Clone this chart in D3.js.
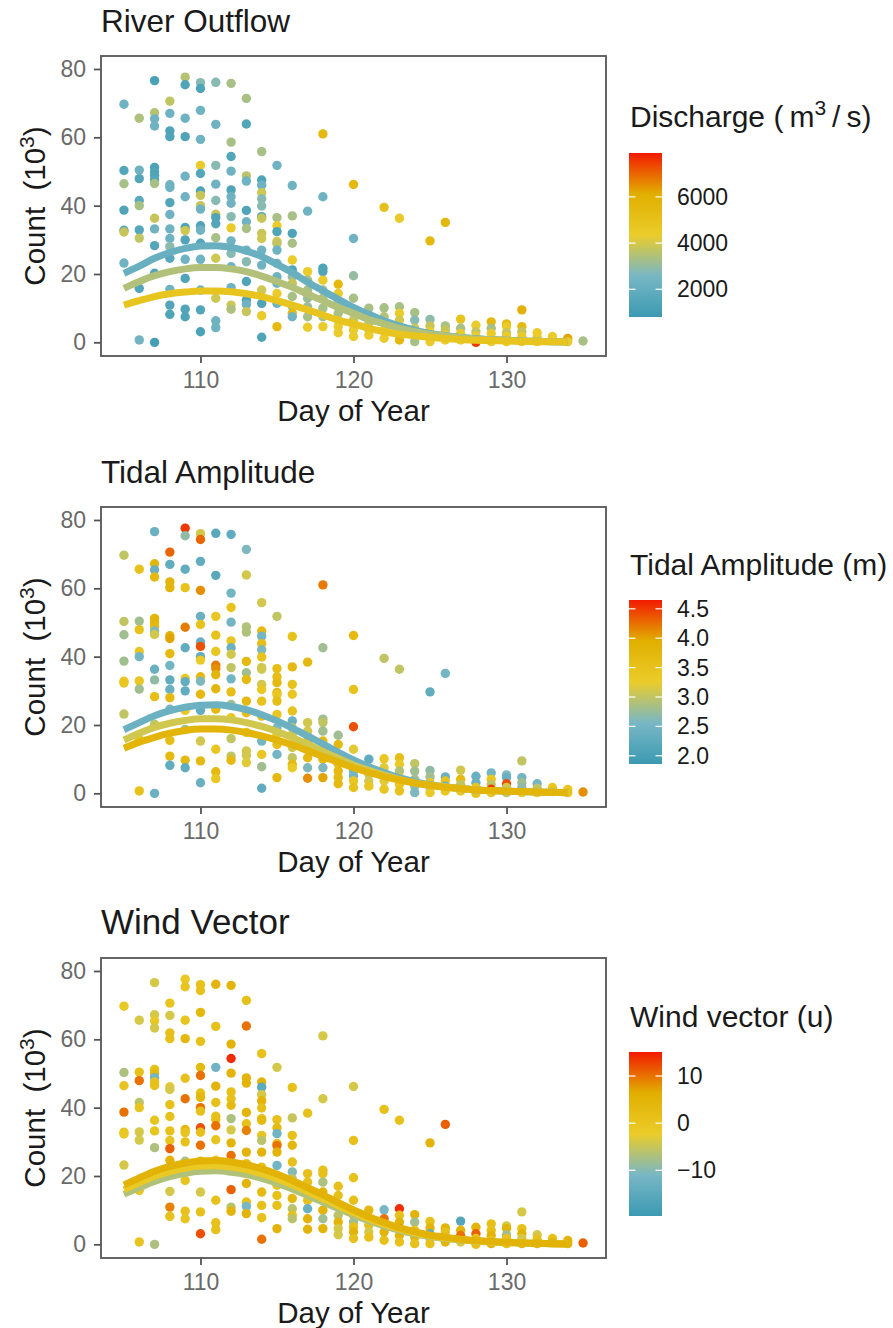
<!DOCTYPE html>
<html>
<head>
<meta charset="utf-8">
<script src="https://cdn.jsdelivr.net/npm/d3@7"></script>
<style>
  body { margin: 0; background: #fff; }
  text { font-family: "Liberation Sans", Arial, Helvetica, sans-serif; }
</style>
</head>
<body>
<div id="chart"></div>
<script>

// ---- data ----
var days = [105, 106, 107, 108, 109, 110, 111, 112, 113, 114, 115, 116, 117, 118, 119, 120,
            121, 122, 123, 124, 125, 126, 127, 128, 129, 130, 131, 132, 133, 134, 135];

// counts (x 1000), one list per day
var counts = [
  [69.7, 50.3, 46.4, 38.7, 32.8, 32.3, 23.2],
  [65.6, 50.4, 47.9, 41.5, 40.0, 32.9, 30.5, 15.8, 0.7],
  [76.6, 67.2, 65.4, 63.3, 51.2, 49.9, 48.8, 47.5, 46.5, 36.3, 33.2, 28.3, 20.2, 0],
  [70.6, 67.0, 61.9, 60.2, 46.1, 45.3, 40.9, 37.4, 33.2, 30.4, 28.0, 24.6, 15.5, 10.9, 8.2],
  [77.6, 75.4, 65.6, 60.2, 48.6, 42.6, 33.6, 32.7, 30.0, 24.3, 18.7, 9.7, 7.5],
  [76.0, 74.3, 67.9, 59.4, 51.8, 49.4, 44.3, 43.0, 40.0, 39.0, 34.1, 32.8, 29.0, 24.3, 15.3, 9.5, 3.1],
  [76.1, 63.8, 51.8, 46.3, 41.5, 37.5, 36.5, 34.7, 30.6, 24.6, 12.9, 6.3, 4.3],
  [75.8, 58.6, 54.4, 50.1, 44.6, 42.6, 40.7, 36.8, 33.5, 29.7, 26.0, 22.1, 16.0, 10.9, 9.7],
  [71.4, 63.9, 48.7, 47.2, 38.6, 35.3, 33.3, 27.0, 23.6, 17.8, 12.4, 11.1, 9.0],
  [55.8, 47.5, 46.0, 43.8, 42.0, 39.9, 36.8, 36.3, 31.9, 30.4, 27.0, 22.6, 15.3, 11.4, 7.8, 1.5],
  [51.8, 36.5, 34.1, 32.4, 29.5, 28.9, 27.0, 23.1, 19.2, 17.3, 14.3, 11.4, 4.6],
  [45.9, 37.0, 31.9, 29.0, 24.1, 21.2, 19.2, 17.3, 13.4, 10.4, 8.5, 7.5],
  [38.4, 20.7, 18.2, 15.3, 12.9, 10.4, 7.5, 4.4],
  [61.0, 42.6, 21.7, 20.7, 18.2, 15.3, 12.9, 10.0, 7.5, 4.6],
  [17.0, 14.3, 11.4, 8.5, 6.5, 4.6, 2.8],
  [46.2, 30.4, 19.5, 12.9, 8.5, 6.5, 5.1, 3.6, 1.7],
  [10.0, 7.5, 5.6, 3.6, 2.1],
  [39.5, 10.1, 7.5, 5.6, 3.6, 1.2],
  [36.3, 10.4, 8.5, 6.5, 4.6, 2.6, 0.7],
  [8.7, 6.5, 4.1, 2.1, 0.2],
  [29.7, 6.7, 4.8, 3.1, 1.7, 0.2],
  [35.1, 4.8, 3.6, 2.1, 0.7],
  [6.8, 4.1, 2.6, 0.7],
  [5.0, 3.1, 1.7, 0],
  [6.0, 4.1, 2.6, 1.2, 0.2],
  [5.4, 4.6, 2.8, 1.7, 0.2],
  [9.5, 4.6, 3.1, 1.7, 0.2],
  [2.8, 1.5, 0.2],
  [1.7, 0.5],
  [1.1, 0.2],
  [0.4]
];

// river discharge (m3/s) for each point
var discharge = [
  [2300, 1500, 3300, 1400, 1500, 3800, 2300],
  [3400, 2300, 1500, 1700, 3300, 1600, 3700, 1500, 2400],
  [1200, 3500, 2300, 2300, 1300, 1400, 1400, 1500, 3300, 3800, 2300, 1500, 1500, 1100],
  [3700, 2300, 1400, 1400, 2300, 2300, 1500, 2300, 2300, 2300, 2900, 1600, 2300, 1500, 1400],
  [3500, 1400, 2300, 1400, 2300, 2300, 1400, 3900, 1400, 2300, 1400, 1500, 1400],
  [2800, 1400, 2300, 2300, 4400, 1500, 1400, 3800, 3800, 2300, 1400, 2300, 1500, 2300, 2300, 1500, 1300],
  [2800, 2300, 2800, 2300, 2800, 3800, 1400, 1500, 3300, 3900, 3900, 2300, 2300],
  [3300, 3300, 1500, 2300, 1400, 2300, 2300, 2800, 4400, 2300, 2800, 2300, 2300, 3900, 3400],
  [3300, 1500, 3600, 2300, 1400, 2300, 3300, 2300, 2800, 1400, 1400, 2300, 3800],
  [3300, 1400, 2300, 3900, 2800, 2800, 1400, 3800, 3800, 3900, 2300, 2300, 3900, 1400, 4400, 1400],
  [2300, 3300, 4400, 1400, 3900, 3700, 2300, 2300, 2300, 2300, 4400, 2300, 5500],
  [2300, 3300, 1400, 3300, 4400, 1400, 3000, 3800, 3300, 3300, 5500, 2300],
  [2300, 4400, 3300, 3300, 3100, 3100, 3300, 4400],
  [5500, 2300, 1400, 1400, 4400, 3100, 3300, 3300, 3300, 4400],
  [5500, 4400, 3300, 3300, 3800, 4400, 4400],
  [5500, 2300, 3000, 3300, 3800, 3800, 4400, 4400, 4400],
  [3300, 3500, 3800, 4000, 4400],
  [5000, 3300, 3500, 3800, 4400, 4400],
  [4500, 3300, 4400, 4000, 4400, 4400, 5500],
  [3300, 2800, 3800, 4400, 3300],
  [5500, 2900, 3800, 4400, 4400, 4400],
  [5700, 3300, 3800, 4400, 4400],
  [4900, 3300, 4400, 4400],
  [4400, 3800, 4400, 7500],
  [5500, 3300, 4400, 4400, 4400],
  [5500, 4400, 3800, 4400, 4400],
  [6000, 5500, 3800, 4400, 4400],
  [4400, 4400, 4400],
  [4400, 4400],
  [6300, 4400],
  [3300]
];

// tidal amplitude (m) for each point
var tideAmp = [
  [3.0, 3.0, 2.8, 2.8, 3.4, 3.4, 3.0],
  [3.5, 2.8, 3.5, 3.4, 2.5, 3.4, 2.8, 3.4, 3.5],
  [2.4, 3.8, 2.4, 3.7, 3.8, 3.8, 3.7, 2.6, 3.1, 2.4, 2.7, 3.6, 3.0, 2.4],
  [4.3, 2.3, 3.8, 3.8, 3.9, 4.0, 3.7, 2.5, 2.3, 2.4, 3.7, 2.5, 3.6, 3.7, 2.3],
  [4.5, 2.7, 2.3, 3.5, 4.2, 2.3, 3.4, 2.3, 2.3, 3.4, 2.8, 3.7, 2.3],
  [3.1, 4.3, 2.3, 4.1, 2.4, 3.5, 2.4, 4.4, 2.3, 3.3, 3.7, 2.6, 3.7, 2.3, 3.1, 3.7, 2.4],
  [2.2, 2.2, 3.4, 3.5, 3.4, 4.2, 4.1, 3.8, 3.8, 3.7, 3.4, 3.7, 3.4],
  [2.3, 2.5, 3.5, 2.5, 3.4, 2.4, 3.1, 3.0, 2.5, 3.6, 2.8, 3.4, 3.0, 3.0, 3.7],
  [2.6, 3.1, 2.9, 2.9, 3.7, 2.8, 3.7, 3.7, 3.6, 3.4, 3.1, 3.1, 3.2],
  [3.1, 3.7, 2.5, 3.6, 2.6, 3.5, 3.1, 3.1, 3.1, 3.4, 3.5, 3.6, 2.5, 3.4, 2.8, 2.3],
  [3.0, 3.6, 3.6, 3.7, 3.7, 3.4, 3.6, 3.4, 2.6, 3.3, 3.6, 2.5, 3.7],
  [3.5, 3.7, 3.5, 3.4, 3.5, 2.4, 3.0, 3.1, 3.1, 3.0, 3.7, 3.3],
  [3.7, 3.1, 3.1, 3.7, 2.9, 3.7, 2.6, 4.1],
  [4.2, 2.8, 2.8, 3.0, 2.8, 3.7, 3.6, 3.7, 2.6, 4.0],
  [2.8, 3.7, 4.0, 3.5, 3.7, 3.7, 3.7],
  [3.7, 3.5, 4.4, 3.2, 2.5, 2.5, 2.5, 3.4, 3.5],
  [2.3, 2.5, 3.0, 3.1, 3.4],
  [3.0, 3.4, 3.2, 2.8, 3.2, 3.4],
  [3.0, 3.6, 3.3, 2.9, 3.3, 3.4, 3.5],
  [3.0, 2.8, 2.8, 2.7, 2.6],
  [2.3, 2.7, 2.8, 3.4, 2.7, 3.3],
  [2.5, 2.4, 3.5, 2.4, 3.4],
  [3.1, 3.7, 3.0, 3.4],
  [2.4, 2.4, 3.4, 3.5],
  [2.5, 3.4, 3.0, 4.5, 3.4],
  [2.6, 2.4, 4.4, 3.1, 3.0],
  [3.0, 2.5, 2.8, 2.7, 3.2],
  [2.5, 3.0, 3.3],
  [3.4, 3.5],
  [3.4, 3.5],
  [4.1]
];

// wind vector (u) for each point
var windU = [
  [-1, -7, 0, 10, 1, -1, -4],
  [-4, 1, 10, -6, 0, -4, -4, 0, 0],
  [-4, -4, -1, -4, 1, 4, -12, 1, 1, 0, 0, -7, 0, -7],
  [0, -4, 1, 1, -3, -4, 1, 1, 1, 0, 11, 5, -4, 9, 1],
  [-1, 0, 0, 4, 1, 10, 4, 0, 1, -7, 0, 1, 0],
  [1, 1, 4, 1, 3, 10, 1, 4, 10, 1, 12, 1, 10, 3, -4, 1, 12],
  [5, 1, -12, 5, 1, 1, 1, 10, 0, -3, 1, 1, 1],
  [5, 5, 14, 5, 1, 1, 3, -7, -4, 5, 10, 1, 11, -6, 5],
  [1, 10, 5, 5, 5, 1, 9, 5, 1, 5, 1, -11, 5],
  [1, 5, -15, -4, 5, 1, 1, 3, 0, -6, 5, 1, 3, 1, 1, 10],
  [-4, 1, 3, -12, 1, 10, 5, -12, 1, 1, 1, 1, 5],
  [1, -5, 1, 4, 1, -10, -6, 1, 4, -6, 1, -6],
  [1, 1, 1, 5, 1, -13, 5, 5],
  [-4, -4, 1, 1, -7, 5, 10, 5, -8, 5],
  [1, 1, 5, -6, 5, -4, -4],
  [-4, 1, 1, 1, 5, -8, 1, 5, 1],
  [4, -4, 1, -4, 1],
  [1, -11, 10, 5, 5, 1],
  [1, 14, 1, 5, 12, 5, 1],
  [5, -8, 1, 5, 1],
  [5, 1, 5, -14, 1, 1],
  [11, 5, 1, 1, 5],
  [-16, 5, 10, -4],
  [5, 11, 1, 1],
  [1, 1, 5, 1, 5],
  [-4, 5, -8, 1, 1],
  [-4, 1, 5, -4, 5],
  [-4, 1, 5],
  [1, 5],
  [5, 5],
  [11]
];

// fitted curves (x 1000) at three covariate levels
var fitDays = [105, 106, 107, 108, 109, 110, 111, 112, 113, 114, 115, 116, 117, 118, 119, 120,
               121, 122, 123, 124, 125, 126, 127, 128, 129, 130, 131, 132, 133, 134];

var dischargeFitLevels = [2100, 3450, 4850];
var dischargeFits = [
  [20.2, 22.3, 24.6, 26.3, 27.5, 28.2, 28.3, 27.8, 26.7, 25.1, 22.8, 20.4, 17.6, 15.1, 12.6, 10.2,
   8.2, 6.3, 4.8, 3.6, 2.6, 2.0, 1.4, 1.1, 0.8, 0.6, 0.4, 0.3, 0.2, 0.1],
  [15.8, 17.8, 19.5, 20.7, 21.5, 21.9, 21.9, 21.5, 20.7, 19.4, 17.8, 16.1, 14.1, 12.2, 10.2, 8.5,
   6.7, 5.4, 4.1, 3.1, 2.4, 1.9, 1.4, 1.0, 0.8, 0.6, 0.4, 0.3, 0.2, 0.1],
  [10.9, 12.2, 13.4, 14.2, 14.7, 15.0, 15.0, 14.8, 14.2, 13.4, 12.2, 10.9, 9.5, 8.0, 6.5, 5.4,
   4.1, 3.1, 2.4, 1.9, 1.5, 1.1, 0.8, 0.6, 0.5, 0.4, 0.3, 0.2, 0.15, 0.1]
];

var tideFitLevels = [2.42, 3.09, 3.81];
var tideFits = [
  [18.6, 20.7, 22.7, 24.2, 25.2, 25.8, 25.9, 25.4, 24.5, 23.0, 21.2, 19.1, 16.8, 14.5, 12.0, 9.8,
   7.8, 6.1, 4.6, 3.4, 2.5, 1.9, 1.4, 1.0, 0.8, 0.6, 0.5, 0.4, 0.3, 0.2],
  [15.6, 17.6, 19.3, 20.5, 21.3, 21.8, 21.8, 21.5, 20.7, 19.6, 18.1, 16.3, 14.4, 12.2, 10.3, 8.3,
   6.7, 5.3, 4.1, 3.1, 2.4, 1.9, 1.4, 1.0, 0.8, 0.6, 0.5, 0.4, 0.3, 0.2],
  [13.2, 15.0, 16.4, 17.6, 18.4, 18.8, 18.8, 18.5, 17.8, 16.8, 15.6, 14.2, 12.5, 10.8, 9.1, 7.5,
   6.1, 4.9, 3.9, 3.0, 2.3, 1.8, 1.4, 1.0, 0.8, 0.6, 0.5, 0.4, 0.3, 0.2]
];

var windFitLevels = [-6.8, -1.3, 5.4];
var windFits = [
  [14.7, 16.6, 18.4, 19.8, 20.8, 21.4, 21.5, 21.1, 20.4, 19.3, 17.9, 16.2, 14.3, 12.4, 10.5, 8.6,
   6.9, 5.4, 4.1, 3.1, 2.3, 1.7, 1.3, 0.9, 0.7, 0.5, 0.4, 0.3, 0.2, 0.1],
  [16.0, 18.0, 19.9, 21.3, 22.3, 22.9, 23.0, 22.6, 21.8, 20.7, 19.2, 17.4, 15.4, 13.4, 11.3, 9.3,
   7.5, 5.9, 4.5, 3.4, 2.5, 1.9, 1.4, 1.0, 0.7, 0.5, 0.4, 0.3, 0.2, 0.1],
  [17.4, 19.4, 21.4, 22.8, 23.8, 24.4, 24.5, 24.1, 23.3, 22.1, 20.6, 18.7, 16.6, 14.5, 12.2, 10.1,
   8.1, 6.4, 4.9, 3.7, 2.7, 2.1, 1.5, 1.1, 0.8, 0.6, 0.4, 0.3, 0.2, 0.1]
];

// colour bar limits and breaks
var dischargeRange = [800, 7900];
var dischargeTicks = [2000, 4000, 6000];
var tideRange = [1.86, 4.65];
var tideTicks = [2.0, 2.5, 3.0, 3.5, 4.0, 4.5];
var windRange = [-19.7, 15.1];
var windTicks = [-10, 0, 10];

var yTicks = [0, 20, 40, 60, 80];
var xTicks = [110, 120, 130];

var zissou = ['#3B9AB2', '#78B7C5', '#EBCC2A', '#E1AF00', '#F21A00'];

// ---- layout ----
var width = 893, height = 1328;
var plotLeft = 101, plotRight = 606, plotH = 300;

var panels = [
  { title: 'River Outflow', titleSize: 31.5, top: 56, values: discharge, range: dischargeRange,
    ticks: dischargeTicks, fmt: d3.format('d'), fitLevels: dischargeFitLevels, fits: dischargeFits,
    legend: 'discharge', legTitleY: 71, legBarY: 97 },
  { title: 'Tidal Amplitude', titleSize: 31.5, top: 507, values: tideAmp, range: tideRange,
    ticks: tideTicks, fmt: d3.format('.1f'), fitLevels: tideFitLevels, fits: tideFits,
    legend: 'Tidal Amplitude (m)', legTitleY: 68, legBarY: 93 },
  { title: 'Wind Vector', titleSize: 35, top: 958, values: windU, range: windRange,
    ticks: windTicks, fmt: function (d) { return d < 0 ? '\u2212' + Math.abs(d) : String(d); },
    fitLevels: windFitLevels, fits: windFits,
    legend: 'Wind vector (u)', legTitleY: 69, legBarY: 94 }
];

var svg = d3.select('#chart').append('svg')
    .attr('width', width)
    .attr('height', height);

svg.append('rect').attr('width', width).attr('height', height).attr('fill', '#fff');

var x = d3.scaleLinear().domain([103.5, 136.5]).range([plotLeft, plotRight]);

var defs = svg.append('defs');

panels.forEach(function (p, pi) {

    var top = p.top;
    var y = d3.scaleLinear().domain([-4.0, 83.8]).range([top + plotH, top]);

    var lo = p.range[0], hi = p.range[1];
    var color = d3.scaleLinear()
        .domain(d3.range(5).map(function (k) { return lo + (hi - lo) * k / 4; }))
        .range(zissou)
        .interpolate(d3.interpolateRgb)
        .clamp(true);

    var g = svg.append('g');

    // flatten points
    var pts = [];
    days.forEach(function (d, i) {
        counts[i].forEach(function (c, j) {
            pts.push({ day: d, count: c, v: p.values[i][j] });
        });
    });

    g.selectAll('.pt')
        .data(pts)
        .enter().append('circle')
        .attr('class', 'pt')
        .attr('cx', function (d) { return x(d.day); })
        .attr('cy', function (d) { return y(d.count); })
        .attr('r', 4.7)
        .attr('fill', function (d) { return color(d.v); });

    // fitted curves
    var line = d3.line()
        .x(function (d) { return x(d[0]); })
        .y(function (d) { return y(d[1]); })
        .curve(d3.curveMonotoneX);

    p.fits.forEach(function (f, k) {
        g.append('path')
            .datum(fitDays.map(function (d, i) { return [d, f[i]]; }))
            .attr('d', line)
            .attr('fill', 'none')
            .attr('stroke', color(p.fitLevels[k]))
            .attr('stroke-width', 7)
            .attr('stroke-linecap', 'butt');
    });

    // border
    g.append('rect')
        .attr('x', plotLeft).attr('y', top)
        .attr('width', plotRight - plotLeft).attr('height', plotH)
        .attr('fill', 'none')
        .attr('stroke', '#555')
        .attr('stroke-width', 1.8);

    // axes
    var yAxis = g.append('g')
        .attr('transform', 'translate(' + plotLeft + ',0)')
        .call(d3.axisLeft(y).tickValues(yTicks).tickSize(7).tickPadding(8));
    var xAxis = g.append('g')
        .attr('transform', 'translate(0,' + (top + plotH) + ')')
        .call(d3.axisBottom(x).tickValues(xTicks).tickSize(7).tickPadding(9));

    [yAxis, xAxis].forEach(function (a) {
        a.select('.domain').remove();
        a.selectAll('line').attr('stroke', '#555').attr('stroke-width', 1.8);
        a.selectAll('text')
            .attr('fill', '#6a6a6a')
            .style('font-size', '23px')
            .style('font-family', '"Liberation Sans", Arial, sans-serif');
    });

    // titles
    g.append('text')
        .attr('x', plotLeft)
        .attr('y', top - 24)
        .attr('fill', '#1a1a1a')
        .style('font-size', p.titleSize + 'px')
        .text(p.title);

    g.append('text')
        .attr('x', (plotLeft + plotRight) / 2)
        .attr('y', top + plotH + 65)
        .attr('text-anchor', 'middle')
        .attr('fill', '#1a1a1a')
        .style('font-size', '29.5px')
        .text('Day of Year');

    var yl = g.append('text')
        .attr('transform', 'translate(45,' + (top + plotH / 2) + ') rotate(-90)')
        .attr('text-anchor', 'middle')
        .attr('fill', '#1a1a1a')
        .style('font-size', '29.5px');
    yl.append('tspan').text('Count\u00a0\u00a0(10');
    yl.append('tspan').attr('dy', -11).style('font-size', '21px').text('3');
    yl.append('tspan').attr('dy', 11).text(')');

    // legend
    var lx = 629, barW = 33, barH = 164;
    var barTop = top + p.legBarY;

    var lt = g.append('text')
        .attr('x', 630)
        .attr('y', top + p.legTitleY)
        .attr('fill', '#1a1a1a')
        .style('font-size', '30px');
    if (p.legend === 'discharge') {
        lt.append('tspan').text('Discharge (\u2009m');
        lt.append('tspan').attr('dy', -12).style('font-size', '21px').text('3');
        lt.append('tspan').attr('dy', 12).text('\u2009/\u2009s)');
    } else {
        lt.text(p.legend);
    }

    var gradId = 'grad' + pi;
    var grad = defs.append('linearGradient')
        .attr('id', gradId)
        .attr('x1', 0).attr('y1', 1).attr('x2', 0).attr('y2', 0);
    zissou.forEach(function (c, k) {
        grad.append('stop').attr('offset', (k * 25) + '%').attr('stop-color', c);
    });

    g.append('rect')
        .attr('x', lx).attr('y', barTop)
        .attr('width', barW).attr('height', barH)
        .attr('fill', 'url(#' + gradId + ')');

    var ly = d3.scaleLinear().domain(p.range).range([barTop + barH, barTop]);

    p.ticks.forEach(function (t) {
        var ty = ly(t);
        g.append('line').attr('x1', lx).attr('x2', lx + 6.5).attr('y1', ty).attr('y2', ty)
            .attr('stroke', '#fff').attr('stroke-width', 1.2);
        g.append('line').attr('x1', lx + barW - 6.5).attr('x2', lx + barW).attr('y1', ty).attr('y2', ty)
            .attr('stroke', '#fff').attr('stroke-width', 1.2);
        g.append('text')
            .attr('x', 677)
            .attr('y', ty)
            .attr('dy', '0.35em')
            .attr('fill', '#1a1a1a')
            .style('font-size', '23px')
            .text(p.fmt(t));
    });
});

</script>
</body>
</html>
